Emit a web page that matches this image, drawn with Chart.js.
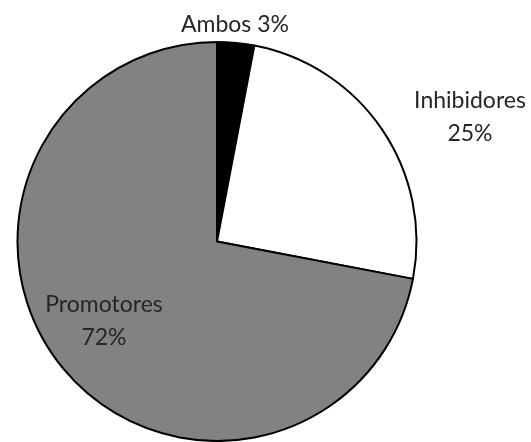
<!DOCTYPE html>
<html>
<head>
<meta charset="utf-8">
<script src="https://cdn.jsdelivr.net/npm/chart.js@4/dist/chart.umd.min.js"></script>
<style>
  html, body { margin: 0; padding: 0; background: #ffffff; }
  #wrap { width: 531px; height: 442px; }
</style>
</head>
<body>
<div id="wrap"><canvas id="chart" width="531" height="442"></canvas></div>
<script>
// Share of compounds by effect type
const categories = ['Ambos', 'Inhibidores', 'Promotores'];
const shares = [3, 25, 72];
const sliceColors = ['#000000', '#ffffff', '#828282'];

// Label anchors (baseline of the first line), as offsets from the pie centre
const labelOffsets = [[18, -210], [253, -134], [-113, 70]];
const labelTwoLines = [false, true, true];
const lineGap = 33;

const sliceLabels = {
  id: 'sliceLabels',
  afterDatasetsDraw(chart) {
    const ctx = chart.ctx;
    const meta = chart.getDatasetMeta(0);
    ctx.save();
    ctx.font = '23px Lato, "Open Sans", sans-serif';
    ctx.fillStyle = '#262626';
    ctx.textAlign = 'center';
    ctx.textBaseline = 'alphabetic';
    meta.data.forEach((arc, i) => {
      const x = arc.x + labelOffsets[i][0];
      const y = arc.y + labelOffsets[i][1];
      const pct = shares[i] + '%';
      if (labelTwoLines[i]) {
        ctx.fillText(categories[i], x, y);
        ctx.fillText(pct, x, y + lineGap);
      } else {
        ctx.fillText(categories[i] + ' ' + pct, x, y);
      }
    });
    ctx.restore();
  }
};

new Chart(document.getElementById('chart'), {
  type: 'pie',
  data: {
    labels: categories,
    datasets: [{
      data: shares,
      backgroundColor: sliceColors,
      borderColor: '#000000',
      borderWidth: 2
    }]
  },
  options: {
    responsive: false,
    animation: false,
    layout: { padding: { top: 41, bottom: 0, left: 16, right: 113 } },
    plugins: {
      legend: { display: false },
      tooltip: { enabled: false }
    }
  },
  plugins: [sliceLabels]
});
</script>
</body>
</html>
